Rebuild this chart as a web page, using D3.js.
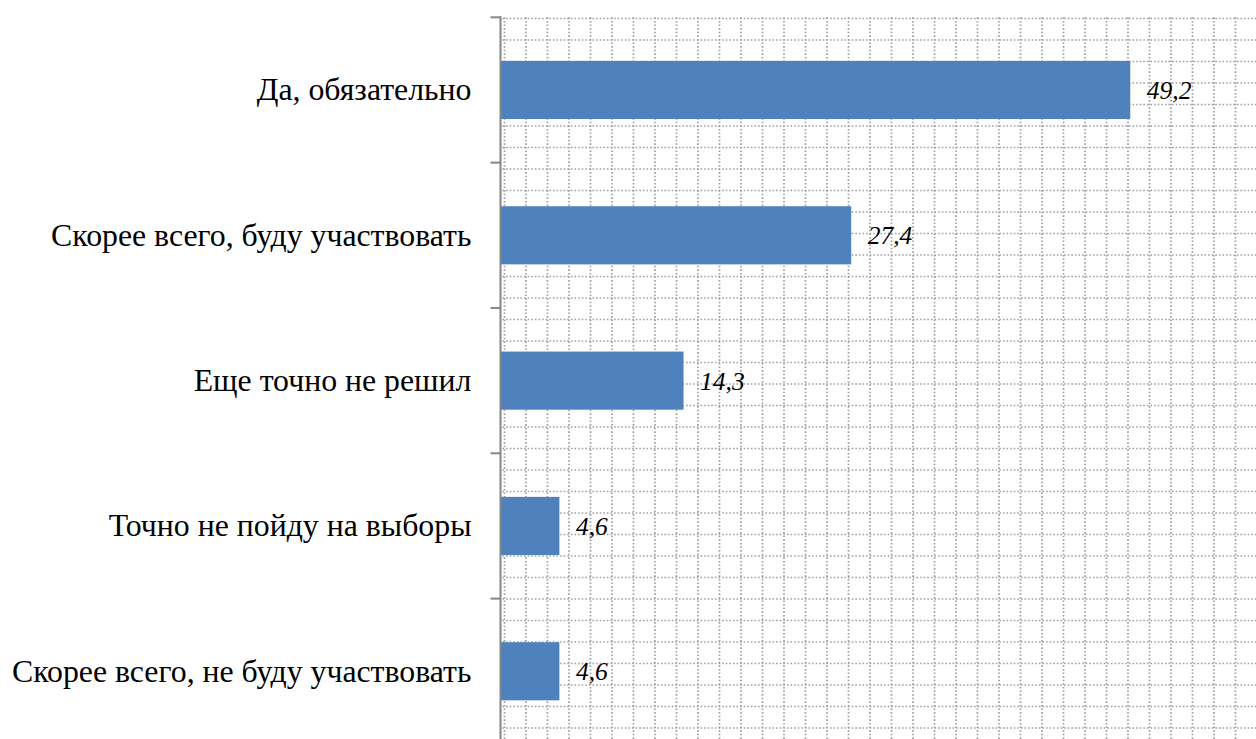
<!DOCTYPE html>
<html>
<head>
<meta charset="utf-8">
<script src="https://cdn.jsdelivr.net/npm/d3@7"></script>
<style>
  body { margin: 0; background: #fff; }
  .cat { font-family: "Liberation Serif", "DejaVu Serif", serif; font-size: 31.8px; fill: #000; }
  .val { font-family: "Liberation Serif", "DejaVu Serif", serif; font-size: 25.5px; font-style: italic; fill: #000; }
</style>
</head>
<body>
<svg id="chart" width="1256" height="739"></svg>
<script>
var categories = ["Да, обязательно", "Скорее всего, буду участвовать", "Еще точно не решил",
                  "Точно не пойду на выборы", "Скорее всего, не буду участвовать"];
var values = [49.2, 27.4, 14.3, 4.6, 4.6];
var valueLabels = ["49,2", "27,4", "14,3", "4,6", "4,6"];

var svg = d3.select("#chart"),
    width = +svg.attr("width"),
    height = +svg.attr("height");

var plotLeft = 500.5, plotTop = 17.3, bandH = 145.33;

var x = d3.scaleLinear().domain([0, 60]).range([plotLeft, plotLeft + 768]);
var y = d3.scaleBand()
    .domain(categories)
    .range([plotTop, plotTop + bandH * categories.length])
    .paddingInner(0.6)
    .paddingOuter(0.3);

// dotted background grid
var gridStep = 21.5;
var grid = svg.append("g")
    .attr("stroke", "#a0a0a0")
    .attr("stroke-width", 1.7)
    .attr("stroke-dasharray", "1.6,2");
grid.selectAll(".gv")
    .data(d3.range(plotLeft + 4, width + 1, gridStep))
    .enter().append("line")
    .attr("x1", function(d) { return d; })
    .attr("x2", function(d) { return d; })
    .attr("y1", plotTop)
    .attr("y2", height);
grid.selectAll(".gh")
    .data(d3.range(plotTop + 1.2, height + 1, gridStep))
    .enter().append("line")
    .attr("x1", plotLeft + 2)
    .attr("x2", width)
    .attr("y1", function(d) { return d; })
    .attr("y2", function(d) { return d; });

// bars
svg.selectAll(".bar")
    .data(values)
    .enter().append("rect")
    .attr("class", "bar")
    .attr("x", x(0))
    .attr("y", function(d, i) { return y(categories[i]); })
    .attr("width", function(d) { return x(d) - x(0); })
    .attr("height", y.bandwidth())
    .attr("fill", "#4f81bd");

// value labels
svg.selectAll(".val")
    .data(values)
    .enter().append("text")
    .attr("class", "val")
    .attr("x", function(d) { return x(d) + 16.5; })
    .attr("y", function(d, i) { return y(categories[i]) + y.bandwidth() / 2; })
    .attr("dy", "0.35em")
    .text(function(d, i) { return valueLabels[i]; });

// category axis
var axis = svg.append("g").attr("stroke", "#868686").attr("stroke-width", 2);
axis.append("line")
    .attr("x1", plotLeft).attr("x2", plotLeft)
    .attr("y1", plotTop - 1).attr("y2", height);
axis.selectAll(".tick")
    .data(d3.range(categories.length + 1))
    .enter().append("line")
    .attr("x1", plotLeft - 10).attr("x2", plotLeft)
    .attr("y1", function(i) { return plotTop + i * y.step(); })
    .attr("y2", function(i) { return plotTop + i * y.step(); });

svg.selectAll(".cat")
    .data(categories)
    .enter().append("text")
    .attr("class", "cat")
    .attr("x", plotLeft - 29)
    .attr("y", function(d) { return y(d) + y.bandwidth() / 2; })
    .attr("dy", "0.33em")
    .attr("text-anchor", "end")
    .text(function(d) { return d; });
</script>
</body>
</html>
